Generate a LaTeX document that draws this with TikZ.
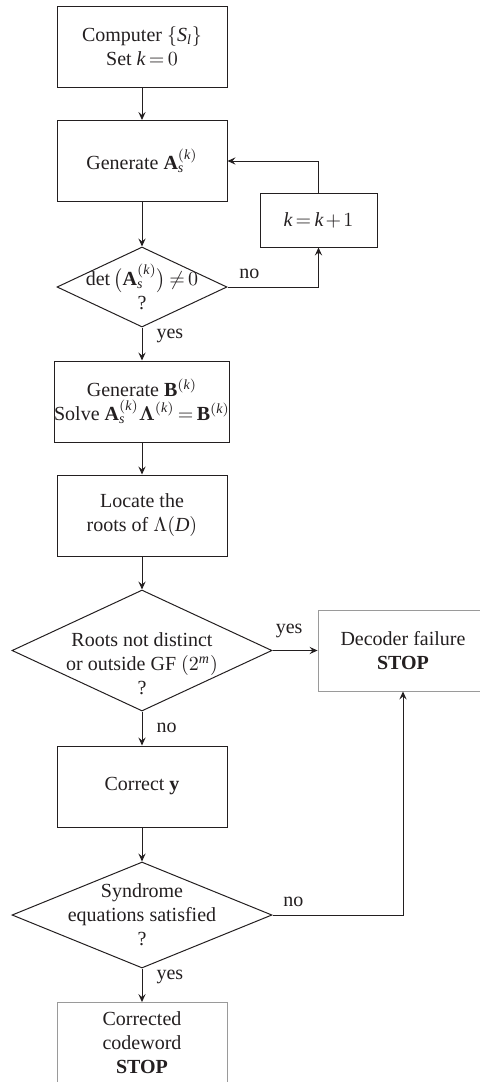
\documentclass[tikz,border=0pt]{standalone}
\usepackage{bm}
\usepackage{fontspec}
\setmainfont{Liberation Serif}
\usetikzlibrary{arrows.meta,shapes.geometric}

% italic math letters taken from the text face
\edef\textfam{\rmdefault}
\DeclareSymbolFont{textletters}{TU}{\textfam}{m}{it}
\DeclareMathSymbol{S}{\mathalpha}{textletters}{`S}
\DeclareMathSymbol{D}{\mathalpha}{textletters}{`D}
\DeclareMathSymbol{l}{\mathalpha}{textletters}{`l}
\DeclareMathSymbol{k}{\mathalpha}{textletters}{`k}
\DeclareMathSymbol{s}{\mathalpha}{textletters}{`s}
\DeclareMathSymbol{m}{\mathalpha}{textletters}{`m}

\definecolor{ink}{HTML}{231F20}
\definecolor{framegray}{HTML}{9A9A9A}

\tikzset{
  flowbox/.style={draw=ink, line width=0.5pt, text=ink, align=center, inner sep=0pt,
    minimum width=85pt, minimum height=40.5pt},
  stopbox/.style={flowbox, draw=framegray, line width=0.45pt},
  decision/.style={draw=ink, line width=0.5pt, text=ink, align=center, diamond, aspect=2,
    inner xsep=-50pt, inner ysep=-30pt},
  flow/.style={draw=ink, line width=0.5pt, -{Stealth[length=4pt,width=3.6pt,inset=1.5pt]}},
  tag/.style={text=ink, inner sep=2pt},
}

\begin{document}
\thickmuskip=3mu plus 2mu
\medmuskip=2mu plus 1mu
\begin{tikzpicture}[x=0.5pt, y=-0.5pt]
\useasboundingbox (0,0) rectangle (479,1082);

\node[flowbox] (computeS) at (142,46.5) {Computer $\{S_l\}$\\Set $k=0$};
\node[flowbox] (genA) at (142,161) {Generate $\mathbf{A}_s^{(k)}$};
\node[decision, minimum width=85pt, minimum height=40pt] (detTest) at (142,287)
  {$\det\,\bigl(\mathbf{A}_s^{(k)}\bigr)\neq 0$\\?};
\node[flowbox, minimum width=58.5pt, minimum height=27pt] (incK) at (318.5,220) {$k=k+1$};
\node[flowbox] (genB) at (142,401.5)
  {Generate $\mathbf{B}^{(k)}$\\Solve $\mathbf{A}_s^{(k)}\bm{\Lambda}^{(k)}=\mathbf{B}^{(k)}$};
\node[flowbox] (locRoots) at (142,515.5) {Locate the\\roots of $\Lambda(D)$};
\node[decision, minimum width=130pt, minimum height=60.5pt] (rootTest) at (142,650.5)
  {\rule{0pt}{20pt}Roots not distinct\\or outside GF $(2^m)$\\?};
\node[stopbox] (failStop) at (403,650.5) {Decoder failure\\\textbf{STOP}};
\node[flowbox] (correctY) at (142,786.5) {Correct $\mathbf{y}$};
\node[decision, minimum width=130pt, minimum height=53pt] (syndTest) at (142,915)
  {Syndrome\\equations satisfied\\?};
\node[stopbox] (doneStop) at (142,1043) {Corrected\\codeword\\\textbf{STOP}};

\draw[flow] (computeS) -- (genA);
\draw[flow] (genA) -- (detTest);
\draw[flow] (detTest.east) -| node[tag, pos=.12, above=2pt] {no} (incK.south);
\draw[flow] (incK.north) |- (genA.east);
\draw[flow] (detTest) -- node[tag, pos=.25, right=5pt] {yes} (genB);
\draw[flow] (genB) -- (locRoots);
\draw[flow] (locRoots) -- (rootTest);
\draw[flow] (rootTest) -- node[tag, pos=.37, above=4pt] {yes} (failStop);
\draw[flow] (rootTest) -- node[tag, pos=.48, right=5pt] {no} (correctY);
\draw[flow] (correctY) -- (syndTest);
\draw[flow] (syndTest.east) -| node[tag, pos=.08, above=2pt] {no} (failStop.south);
\draw[flow] (syndTest) -- node[tag, pos=.25, right=5pt] {yes} (doneStop);
\end{tikzpicture}
\end{document}
